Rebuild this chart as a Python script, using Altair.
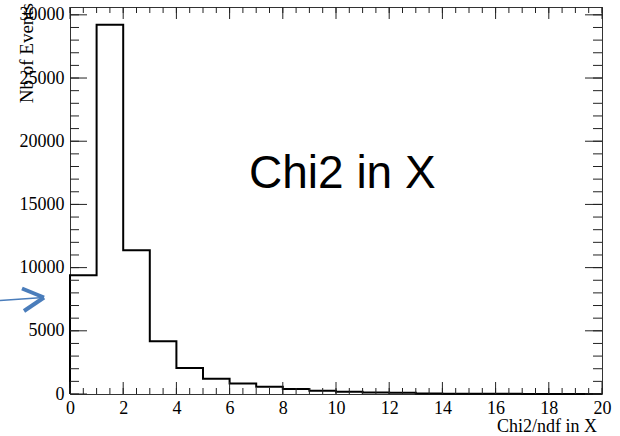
import altair as alt
import pandas as pd

# Histogram of chi2/ndf in X: bin lower edges (width 1) and counts
bin_edges = list(range(0, 21))
bin_counts = [9390, 29220, 11370, 4170, 2060, 1210, 840, 580, 400, 260,
              180, 110, 90, 40, 25, 15, 10, 8, 5, 3]

x_major = list(range(0, 21, 2))
x_minor = [i * 0.5 for i in range(0, 41)]
y_major = list(range(0, 30001, 5000))
y_minor = list(range(0, 30001, 1000))

W, H = 532, 387
X_MAX, Y_MAX = 20, 30620
SERIF = "Liberation Serif"
SANS = "Liberation Sans"

# step outline: start at the baseline, repeat the last count at the right edge
step_x = [0] + bin_edges
step_y = [0] + bin_counts + [bin_counts[-1]]
hist_df = pd.DataFrame({"x": step_x, "y": step_y})

xs = alt.Scale(domain=[0, X_MAX], nice=False, zero=False)
ys = alt.Scale(domain=[0, Y_MAX], nice=False)

hist = alt.Chart(hist_df).mark_line(
    interpolate="step-after", color="black", strokeWidth=2
).encode(
    x=alt.X("x:Q", scale=xs, title=None,
            axis=alt.Axis(values=x_major, format="d", ticks=False, domain=False,
                          grid=False, labelFont=SERIF, labelFontSize=18,
                          labelColor="black", labelPadding=5,
                          labelOverlap=False, labelFlush=False)),
    y=alt.Y("y:Q", scale=ys, title=None,
            axis=alt.Axis(values=y_major, format="d", ticks=False, domain=False,
                          grid=False, labelFont=SERIF, labelFontSize=18,
                          labelColor="black", labelPadding=6,
                          labelOverlap=False, labelFlush=False)),
)


def x_ticks(values, length, top):
    df = pd.DataFrame({"t": values})
    if top:
        y0, y1 = 0, length
    else:
        y0, y1 = H, H - length
    return alt.Chart(df).mark_rule(color="#222", strokeWidth=1).encode(
        x=alt.X("t:Q", scale=xs), y=alt.value(y0), y2=alt.value(y1))


def y_ticks(values, length, right):
    df = pd.DataFrame({"t": values})
    if right:
        x0, x1 = W, W - length
    else:
        x0, x1 = 0, length
    return alt.Chart(df).mark_rule(color="#222", strokeWidth=1).encode(
        y=alt.Y("t:Q", scale=ys), x=alt.value(x0), x2=alt.value(x1))


ticks = [
    x_ticks(x_minor, 6, False), x_ticks(x_major, 12, False),
    x_ticks(x_minor, 6, True), x_ticks(x_major, 12, True),
    y_ticks(y_minor, 9, False), y_ticks(y_major, 17, False),
    y_ticks(y_minor, 9, True), y_ticks(y_major, 17, True),
]

one = alt.Data(values=[{}])

x_title = alt.Chart(one).mark_text(
    text="Chi2/ndf in X", font=SERIF, fontSize=18, align="right",
    baseline="alphabetic", color="black"
).encode(x=alt.value(W - 5), y=alt.value(H + 38))

y_title = alt.Chart(one).mark_text(
    text="Nb of Events", font=SERIF, fontSize=19, align="right",
    baseline="alphabetic", angle=270, color="black"
).encode(x=alt.value(-37), y=alt.value(-4))

label = alt.Chart(one).mark_text(
    text="Chi2 in X", font=SANS, fontSize=46, align="left",
    baseline="alphabetic", color="black"
).encode(x=alt.value(179), y=alt.value(181))

ARROW = "#4a7dbb"
shaft = alt.Chart(one).mark_rule(color=ARROW, strokeWidth=1.5).encode(
    x=alt.value(-70), x2=alt.value(-30), y=alt.value(293.5), y2=alt.value(290.8))
head_up = alt.Chart(one).mark_rule(color=ARROW, strokeWidth=4, strokeCap="butt").encode(
    x=alt.value(-48), x2=alt.value(-26), y=alt.value(281.5), y2=alt.value(290.5))
head_down = alt.Chart(one).mark_rule(color=ARROW, strokeWidth=4, strokeCap="butt").encode(
    x=alt.value(-26), x2=alt.value(-46), y=alt.value(290.5), y2=alt.value(304))

chart = alt.layer(
    hist, *ticks, x_title, y_title, label, shaft, head_up, head_down
).properties(
    width=W, height=H,
    autosize=alt.AutoSizeParams(type="none"),
    padding={"left": 70, "top": 7, "right": 18, "bottom": 42},
    background="white",
).configure_view(stroke="#333", strokeWidth=1)

chart.save("out.html", embed_options={"renderer": "svg", "actions": False})
